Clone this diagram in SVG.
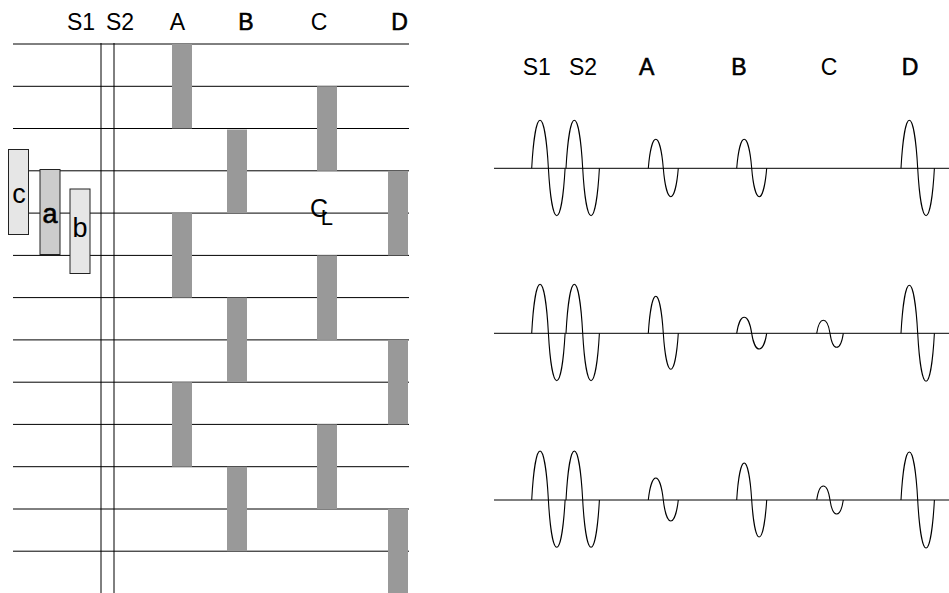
<svg xmlns="http://www.w3.org/2000/svg" width="949" height="593" viewBox="0 0 949 593">
  <style>
    .lbl { font-family: "Liberation Sans", Arial, sans-serif; font-size: 23px; fill: #000; text-anchor: middle; }
    .bold { stroke: #000; stroke-width: 0.6; }
    .grid { stroke: #000; stroke-width: 1; fill: none; }
    .bar { fill: #999999; }
    .wave { stroke: #000; stroke-width: 1.1; fill: none; }
    .tag { font-family: "Liberation Sans", Arial, sans-serif; font-size: 27px; fill: #000; text-anchor: middle; }
  </style>

  <rect x="0" y="0" width="949" height="593" fill="#fff"/>

  <!-- left panel: column headings -->
  <g id="left-headings">
    <text class="lbl" x="81" y="30">S1</text>
    <text class="lbl" x="120" y="30">S2</text>
    <text class="lbl" x="177.5" y="30">A</text>
    <text class="lbl bold" x="246" y="30">B</text>
    <text class="lbl" x="319" y="30">C</text>
    <text class="lbl bold" x="399.5" y="30">D</text>
  </g>

  <!-- horizontal rulings and the two vertical reference lines -->
  <g id="connectors">
    <path class="grid" d="M13 44H409 M13 86.3H409 M13 128.5H409 M13 170.8H409 M13 213.1H409 M13 255.4H409 M13 297.6H409 M13 339.9H409 M13 382.2H409 M13 424.4H409 M13 466.7H409 M13 509H409 M13 551.2H409"/>
    <path class="grid" d="M101 43V593 M114 43V593"/>
  </g>

  <!-- grey element bars per column -->
  <g id="bars-A">
    <rect class="bar" x="172" y="44" width="20" height="84.5"/>
    <rect class="bar" x="172" y="213.1" width="20" height="84.5"/>
    <rect class="bar" x="172" y="382.2" width="20" height="84.5"/>
  </g>
  <g id="bars-B">
    <rect class="bar" x="227" y="129.5" width="20" height="83.6"/>
    <rect class="bar" x="227" y="297.6" width="20" height="84.6"/>
    <rect class="bar" x="227" y="466.7" width="20" height="84.5"/>
  </g>
  <g id="bars-C">
    <rect class="bar" x="317" y="86.3" width="20" height="84.5"/>
    <rect class="bar" x="317" y="255.4" width="20" height="84.5"/>
    <rect class="bar" x="317" y="424.4" width="20" height="84.6"/>
  </g>
  <g id="bars-D">
    <rect class="bar" x="388" y="170.8" width="20" height="84.6"/>
    <rect class="bar" x="388" y="339.9" width="20" height="84.5"/>
    <rect class="bar" x="388" y="509" width="20" height="84"/>
  </g>

  <!-- small legend boxes c, a, b -->
  <g id="box-c">
    <rect x="8.5" y="149.5" width="20" height="85" fill="#e6e6e6" stroke="#222" stroke-width="1"/>
    <text class="tag" x="19" y="203">c</text>
  </g>
  <g id="box-a">
    <rect x="40" y="169.5" width="20" height="85" fill="#cccccc" stroke="#222" stroke-width="1"/>
    <text class="tag bold" x="50" y="223">a</text>
  </g>
  <g id="box-b">
    <rect x="70" y="189" width="20" height="84.5" fill="#e6e6e6" stroke="#222" stroke-width="1"/>
    <text class="tag" x="80" y="236.5">b</text>
  </g>

  <!-- centre-line mark: C with an offset L -->
  <g id="centerline">
    <text x="310" y="216.5" font-family="Liberation Sans, Arial, sans-serif" font-size="25" fill="#000">C<tspan dx="-7.3" dy="8.5" font-size="22">L</tspan></text>
  </g>

  <!-- right panel: headings -->
  <g id="right-headings">
    <text class="lbl" x="536.7" y="75">S1</text>
    <text class="lbl" x="583" y="75">S2</text>
    <text class="lbl bold" x="646.7" y="75">A</text>
    <text class="lbl bold" x="739" y="75">B</text>
    <text class="lbl" x="829" y="75">C</text>
    <text class="lbl bold" x="910" y="75">D</text>
  </g>

  <!-- signal traces: baseline plus one-cycle pulses -->
  <g id="trace-1">
    <path class="grid" d="M494 168.3H949"/>
    <path class="wave" d="M531.7 168.3c1.42 -25.92 4.593 -48 8.35 -48c3.758 0 6.931 22.08 8.35 48c1.42 25.6 4.593 47.4 8.35 47.4c3.758 0 6.931 -21.8 8.35 -47.4"/>
    <path class="wave" d="M566 168.3c1.42 -25.92 4.593 -48 8.35 -48c3.758 0 6.931 22.08 8.35 48c1.42 25.6 4.593 47.4 8.35 47.4c3.758 0 6.931 -21.8 8.35 -47.4"/>
    <path class="wave" d="M648.3 168.3c1.275 -15.66 4.125 -29 7.5 -29c3.375 0 6.225 13.34 7.5 29c1.275 15.34 4.125 28.4 7.5 28.4c3.375 0 6.225 -13.06 7.5 -28.4"/>
    <path class="wave" d="M736.7 168.3c1.275 -15.66 4.125 -29 7.5 -29c3.375 0 6.225 13.34 7.5 29c1.275 15.34 4.125 28.4 7.5 28.4c3.375 0 6.225 -13.06 7.5 -28.4"/>
    <path class="wave" d="M901 168.3c1.42 -25.92 4.593 -48 8.35 -48c3.758 0 6.931 22.08 8.35 48c1.42 25.6 4.593 47.4 8.35 47.4c3.758 0 6.931 -21.8 8.35 -47.4"/>
  </g>
  <g id="trace-2">
    <path class="grid" d="M494 333.3H949"/>
    <path class="wave" d="M531.7 333.3c1.42 -26.46 4.593 -49 8.35 -49c3.758 0 6.931 22.54 8.35 49c1.42 25.6 4.593 47.4 8.35 47.4c3.758 0 6.931 -21.8 8.35 -47.4"/>
    <path class="wave" d="M566 333.3c1.42 -26.46 4.593 -49 8.35 -49c3.758 0 6.931 22.54 8.35 49c1.42 25.6 4.593 47.4 8.35 47.4c3.758 0 6.931 -21.8 8.35 -47.4"/>
    <path class="wave" d="M648.3 333.3c1.275 -19.98 4.125 -37 7.5 -37c3.375 0 6.225 17.02 7.5 37c1.275 19.44 4.125 36 7.5 36c3.375 0 6.225 -16.56 7.5 -36"/>
    <path class="wave" d="M736.7 333.3c1.275 -8.64 4.125 -16 7.5 -16c3.375 0 6.225 7.36 7.5 16c1.275 8.48 4.125 15.7 7.5 15.7c3.375 0 6.225 -7.22 7.5 -15.7"/>
    <path class="wave" d="M816.7 333.3c1.131 -7.02 3.658 -13 6.65 -13c2.993 0 5.52 5.98 6.65 13c1.131 7.56 3.658 14 6.65 14c2.993 0 5.52 -6.44 6.65 -14"/>
    <path class="wave" d="M901 333.3c1.42 -25.92 4.593 -48 8.35 -48c3.758 0 6.931 22.08 8.35 48c1.42 25.92 4.593 48 8.35 48c3.758 0 6.931 -22.08 8.35 -48"/>
  </g>
  <g id="trace-3">
    <path class="grid" d="M494 500H949"/>
    <path class="wave" d="M531.7 500c1.42 -26.46 4.593 -49 8.35 -49c3.758 0 6.931 22.54 8.35 49c1.42 25.54 4.593 47.3 8.35 47.3c3.758 0 6.931 -21.76 8.35 -47.3"/>
    <path class="wave" d="M566 500c1.42 -26.46 4.593 -49 8.35 -49c3.758 0 6.931 22.54 8.35 49c1.42 25.54 4.593 47.3 8.35 47.3c3.758 0 6.931 -21.76 8.35 -47.3"/>
    <path class="wave" d="M648.3 500c1.275 -11.88 4.125 -22 7.5 -22c3.375 0 6.225 10.12 7.5 22c1.275 11.34 4.125 21 7.5 21c3.375 0 6.225 -9.66 7.5 -21"/>
    <path class="wave" d="M736.7 500c1.275 -19.98 4.125 -37 7.5 -37c3.375 0 6.225 17.02 7.5 37c1.275 19.98 4.125 37 7.5 37c3.375 0 6.225 -17.02 7.5 -37"/>
    <path class="wave" d="M816.7 500c1.131 -7.56 3.658 -14 6.65 -14c2.993 0 5.52 6.44 6.65 14c1.131 7.56 3.658 14 6.65 14c2.993 0 5.52 -6.44 6.65 -14"/>
    <path class="wave" d="M901 500c1.42 -25.92 4.593 -48 8.35 -48c3.758 0 6.931 22.08 8.35 48c1.42 25.92 4.593 48 8.35 48c3.758 0 6.931 -22.08 8.35 -48"/>
  </g>
</svg>
